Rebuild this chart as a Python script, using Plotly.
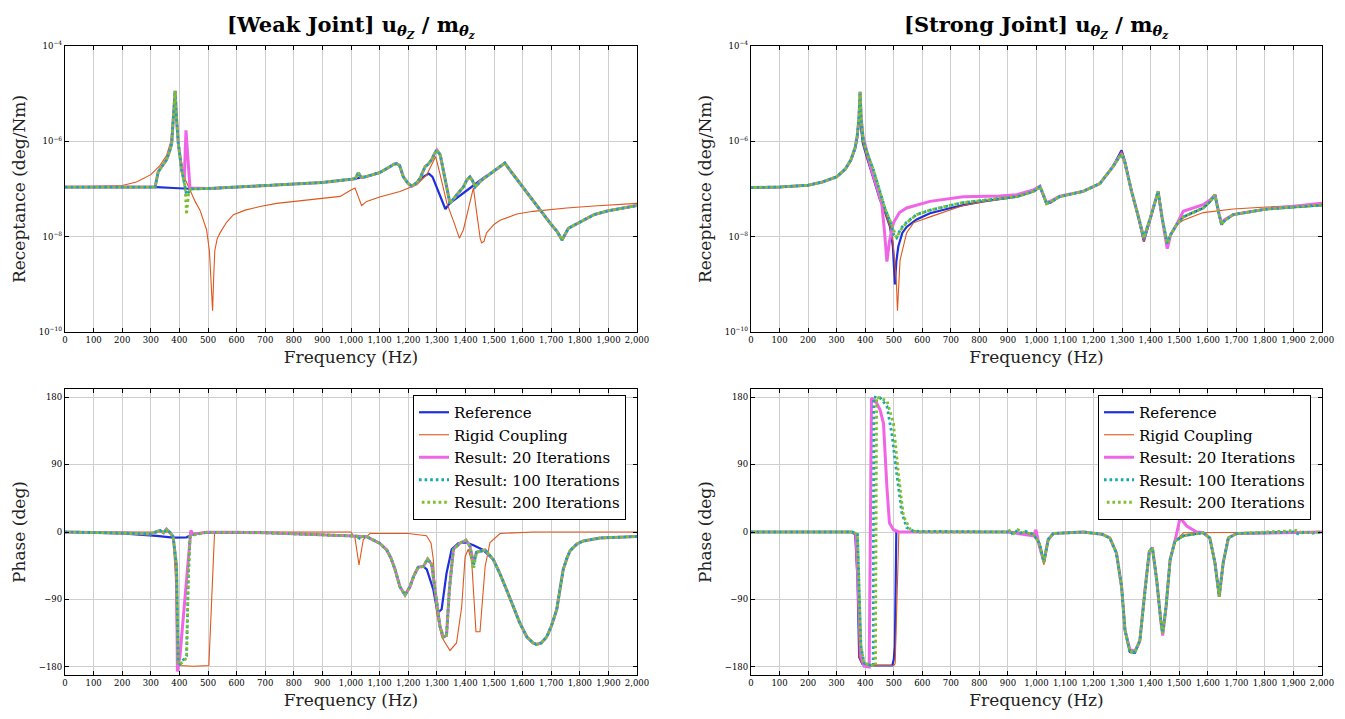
import plotly.graph_objects as go

# ---------------- Weak joint: magnitude (deg/Nm) ----------------
f_ref_wm = [0,100,200,300,320,380,430,450,500,600,700,800,900,1000,1050,1100,1130,1150,1160,1170,
            1183,1200,1213,1230,1250,1265,1272,1285,1300,1315,1330,1345,1400,1463,1500,1538,1560,1600,1650,1700,
            1720,1738,1760,1800,1850,1900,1950,2000]
m_ref_wm = [1.1e-7,1.1e-7,1.12e-7,1.12e-7,1.1e-7,1.05e-7,1.0e-7,1.0e-7,1.02e-7,1.1e-7,1.18e-7,1.27e-7,1.37e-7,1.6e-7,1.8e-7,
            2.2e-7,2.8e-7,3.3e-7,3.4e-7,3.1e-7,1.8e-7,1.3e-7,1.15e-7,1.35e-7,1.75e-7,2.0e-7,2.1e-7,1.8e-7,1.05e-7,6e-8,
            3.8e-8,5e-8,9e-8,1.7e-7,2.35e-7,3.5e-7,2.3e-7,1.1e-7,4.4e-8,1.8e-8,1.3e-8,8.5e-9,1.5e-8,2.0e-8,2.9e-8,
            3.5e-8,4.0e-8,4.5e-8]

f_rig_wm = [0,100,200,250,300,330,355,370,380,385,390,400,420,437,455,472,495,505,512,516,520,524,532,542,565,
            589,630,682,740,798,860,915,962,997,1014,1025,1037,1055,1100,1171,1230,1265,1285,1296,1310,1335,1360,
            1379,1393,1410,1428,1440,1452,1457,1465,1474,1500,1521,1580,1637,1754,1850,2000]
m_rig_wm = [1.1e-7,1.12e-7,1.18e-7,1.4e-7,2.0e-7,3.0e-7,5.0e-7,1.0e-6,4e-6,1.1e-5,3e-6,6e-7,1.6e-7,9.5e-8,5.5e-8,
            3.6e-8,1.4e-8,5e-9,1e-9,2.8e-10,1.5e-9,5.2e-9,9e-9,1.2e-8,2.0e-8,2.9e-8,3.6e-8,4.3e-8,5.0e-8,5.5e-8,
            6.0e-8,6.5e-8,7.0e-8,9.3e-8,1.05e-7,7e-8,4.5e-8,5.5e-8,6.8e-8,8.9e-8,1.23e-7,2.0e-7,3.5e-7,4.8e-7,2.2e-7,
            5.1e-8,2e-8,9.3e-9,1.4e-8,4e-8,1.05e-7,3e-8,9e-9,7.4e-9,8e-9,1.2e-8,1.8e-8,2.2e-8,3.0e-8,3.4e-8,
            4.0e-8,4.4e-8,5.0e-8]

f_r200_wm = [0,100,200,300,315,326,340,355,365,373,380,385,390,396,408,420,425,432,440,500,600,700,800,900,1000,
             1015,1026,1035,1050,1100,1130,1150,1160,1170,1183,1200,1213,1230,1242,1259,1270,1282,1292,1300,1312,
             1330,1346,1370,1393,1405,1416,1425,1434,1457,1500,1538,1560,1600,1650,1700,1720,1738,1760,1800,1850,
             1900,1950,2000]
m_r200_wm = [1.1e-7,1.1e-7,1.12e-7,1.12e-7,1.1e-7,2.3e-7,3.0e-7,4.1e-7,6e-7,9e-7,4e-6,1.15e-5,3e-6,9.3e-7,2.5e-7,
             1.1e-7,2.9e-8,8e-8,1.0e-7,1.02e-7,1.1e-7,1.18e-7,1.27e-7,1.37e-7,1.6e-7,1.65e-7,2.2e-7,1.75e-7,1.8e-7,2.2e-7,
             2.8e-7,3.3e-7,3.4e-7,3.1e-7,1.8e-7,1.3e-7,1.15e-7,1.35e-7,1.7e-7,2.95e-7,3.3e-7,4.1e-7,5.5e-7,6.6e-7,5.2e-7,
             1.5e-7,5e-8,7.6e-8,1.1e-7,1.55e-7,1.8e-7,1.5e-7,1.1e-7,1.55e-7,2.35e-7,3.5e-7,2.3e-7,1.1e-7,4.4e-8,1.8e-8,
             1.3e-8,8.5e-9,1.5e-8,2.0e-8,2.9e-8,3.5e-8,4.0e-8,4.5e-8]

f_r100_wm = [0,100,200,300,315,326,340,355,365,373,380,385,390,396,408,420,425,432,440,500,600,700,800,900,1000,
             1015,1026,1035,1050,1100,1130,1150,1160,1170,1183,1200,1213,1230,1242,1259,1270,1282,1292,1300,1312,
             1330,1346,1370,1393,1405,1416,1425,1434,1457,1500,1538,1560,1600,1650,1700,1720,1738,1760,1800,1850,
             1900,1950,2000]
m_r100_wm = [1.1e-7,1.1e-7,1.12e-7,1.12e-7,1.1e-7,2.3e-7,3.0e-7,4.1e-7,6e-7,9e-7,4e-6,1.15e-5,3e-6,9.3e-7,2.5e-7,
             1.1e-7,7.6e-8,8.5e-8,1.0e-7,1.02e-7,1.1e-7,1.18e-7,1.27e-7,1.37e-7,1.6e-7,1.65e-7,2.2e-7,1.75e-7,1.8e-7,2.2e-7,
             2.8e-7,3.3e-7,3.4e-7,3.1e-7,1.8e-7,1.3e-7,1.15e-7,1.35e-7,1.7e-7,2.95e-7,3.3e-7,4.1e-7,5.5e-7,6.6e-7,5.2e-7,
             1.5e-7,5e-8,7.6e-8,1.1e-7,1.55e-7,1.8e-7,1.5e-7,1.1e-7,1.55e-7,2.35e-7,3.5e-7,2.3e-7,1.1e-7,4.4e-8,1.8e-8,
             1.3e-8,8.5e-9,1.5e-8,2.0e-8,2.9e-8,3.5e-8,4.0e-8,4.5e-8]

f_r20_wm = [0,100,200,300,315,326,340,355,365,373,380,385,390,396,408,417,423,430,437,500,600,700,800,900,1000,
            1015,1026,1035,1050,1100,1130,1150,1160,1170,1183,1200,1213,1230,1242,1259,1270,1282,1292,1300,1312,
            1330,1346,1370,1393,1405,1416,1425,1434,1457,1500,1538,1560,1600,1650,1700,1720,1738,1760,1800,1850,
            1900,1950,2000]
m_r20_wm = [1.1e-7,1.1e-7,1.12e-7,1.12e-7,1.1e-7,2.3e-7,3.0e-7,4.1e-7,6e-7,9e-7,4e-6,1.15e-5,3e-6,9.3e-7,2.5e-7,
            1.6e-7,1.7e-6,4e-7,1.05e-7,1.02e-7,1.1e-7,1.18e-7,1.27e-7,1.37e-7,1.6e-7,1.65e-7,2.2e-7,1.75e-7,1.8e-7,2.2e-7,
            2.8e-7,3.3e-7,3.4e-7,3.1e-7,1.8e-7,1.3e-7,1.15e-7,1.35e-7,1.7e-7,2.95e-7,3.3e-7,4.1e-7,5.5e-7,6.6e-7,5.2e-7,
            1.5e-7,5e-8,7.6e-8,1.1e-7,1.55e-7,1.8e-7,1.5e-7,1.1e-7,1.55e-7,2.35e-7,3.5e-7,2.3e-7,1.1e-7,4.4e-8,1.8e-8,
            1.3e-8,8.5e-9,1.5e-8,2.0e-8,2.9e-8,3.5e-8,4.0e-8,4.5e-8]

# ---------------- Strong joint: magnitude (deg/Nm) ----------------
f_ref_sm = [0,100,200,250,300,330,350,365,372,378,381,385,392,405,430,452,470,487,497,504,509,516,530,545,580,
            627,700,743,814,931,989,1012,1025,1035,1050,1081,1163,1222,1268,1285,1298,1310,1333,1355,1376,1400,1426,
            1440,1458,1470,1491,1514,1550,1584,1610,1625,1640,1648,1660,1689,1806,1900,2000]
m_ref_sm = [1.07e-7,1.1e-7,1.2e-7,1.4e-7,1.8e-7,2.6e-7,4.0e-7,7e-7,1.2e-6,2.5e-6,4.5e-6,2e-6,9e-7,4.8e-7,1.6e-7,
            5.9e-8,3.2e-8,1.6e-8,6.3e-9,1e-9,3e-9,6.2e-9,1.2e-8,1.6e-8,2.3e-8,3.1e-8,4.0e-8,4.6e-8,5.5e-8,6.9e-8,
            8.9e-8,1.1e-7,7e-8,4.9e-8,5.2e-8,6.9e-8,8.9e-8,1.3e-7,3e-7,4.8e-7,6.5e-7,3.8e-7,8.9e-8,2.8e-8,7.9e-9,
            2.5e-8,8.9e-8,2.5e-8,7.2e-9,1.1e-8,1.8e-8,2.6e-8,3.2e-8,4.0e-8,5.6e-8,7.6e-8,2.8e-8,1.8e-8,2.2e-8,2.9e-8,
            3.8e-8,4.2e-8,4.6e-8]

f_rig_sm = [0,100,200,250,300,330,350,365,372,378,381,385,392,405,430,452,470,487,497,504,509,513,517,522,545,
            569,627,700,743,814,931,989,1012,1025,1035,1050,1081,1163,1222,1268,1285,1298,1310,1333,1355,1376,1400,
            1426,1440,1458,1470,1491,1514,1584,1689,1806,2000]
m_rig_sm = [1.07e-7,1.1e-7,1.2e-7,1.4e-7,1.8e-7,2.6e-7,4.0e-7,7e-7,1.2e-6,2.5e-6,4.5e-6,2e-6,9e-7,4.8e-7,1.6e-7,
            5.9e-8,3.2e-8,1.6e-8,8e-9,3e-9,1.2e-9,2.8e-10,1.2e-9,3.2e-9,1.2e-8,1.95e-8,2.6e-8,3.6e-8,4.5e-8,5.4e-8,
            6.8e-8,8.8e-8,1.1e-7,7e-8,4.9e-8,5.2e-8,6.9e-8,8.9e-8,1.3e-7,3e-7,4.6e-7,6.2e-7,3.8e-7,8.9e-8,2.8e-8,
            7.9e-9,2.5e-8,8.9e-8,2.5e-8,7.2e-9,1.1e-8,1.8e-8,2.2e-8,3.2e-8,3.8e-8,4.2e-8,4.7e-8]

f_r200_sm = [0,100,200,250,300,330,350,365,372,378,382,386,392,399,429,452,470,487,500,510,525,545,580,627,700,
             743,814,931,989,1012,1022,1035,1050,1081,1163,1222,1268,1285,1298,1310,1333,1355,1376,1400,1426,1440,
             1458,1470,1491,1514,1550,1584,1610,1625,1640,1648,1660,1689,1806,1900,2000]
m_r200_sm = [1.07e-7,1.1e-7,1.2e-7,1.4e-7,1.8e-7,2.6e-7,4.1e-7,7.5e-7,1.3e-6,3e-6,1.1e-5,3e-6,1.2e-6,7.8e-7,2.5e-7,
             8.1e-8,3.8e-8,2.2e-8,1.3e-8,9.5e-9,1.4e-8,1.95e-8,2.9e-8,3.6e-8,4.6e-8,5.2e-8,5.8e-8,6.9e-8,8.9e-8,1.12e-7,
             8e-8,4.9e-8,5.4e-8,6.9e-8,8.9e-8,1.3e-7,2.95e-7,4.3e-7,5.5e-7,3.5e-7,8.9e-8,2.9e-8,9.3e-9,2.6e-8,8.9e-8,
             2.5e-8,7.2e-9,1.1e-8,1.8e-8,2.6e-8,3.3e-8,4.0e-8,5.6e-8,7.6e-8,2.8e-8,1.8e-8,2.2e-8,2.9e-8,3.8e-8,4.2e-8,
             4.6e-8]

f_r100_sm = [0,100,200,250,300,330,350,365,372,378,382,386,392,399,429,452,470,487,500,510,525,545,580,627,700,
             743,814,931,989,1012,1022,1035,1050,1081,1163,1222,1268,1285,1298,1310,1333,1355,1376,1400,1426,1440,
             1458,1470,1491,1514,1550,1584,1610,1625,1640,1648,1660,1689,1806,1900,2000]
m_r100_sm = [1.07e-7,1.1e-7,1.2e-7,1.4e-7,1.8e-7,2.6e-7,4.1e-7,7.5e-7,1.3e-6,3e-6,1.1e-5,3e-6,1.2e-6,7.8e-7,2.5e-7,
             8.1e-8,3.8e-8,2.1e-8,1.1e-8,9.5e-9,1.5e-8,2.0e-8,2.9e-8,3.6e-8,4.6e-8,5.2e-8,5.8e-8,6.9e-8,8.9e-8,1.12e-7,
             8e-8,4.9e-8,5.4e-8,6.9e-8,8.9e-8,1.3e-7,2.95e-7,4.3e-7,5.5e-7,3.5e-7,8.9e-8,2.9e-8,9.3e-9,2.6e-8,8.9e-8,
             2.5e-8,7.2e-9,1.1e-8,1.8e-8,2.6e-8,3.3e-8,4.0e-8,5.6e-8,7.6e-8,2.8e-8,1.8e-8,2.2e-8,2.9e-8,3.8e-8,4.2e-8,
             4.6e-8]

f_r20_sm = [0,100,200,250,300,330,350,365,372,378,382,386,392,399,420,441,458,468,476,485,499,520,545,627,743,
            871,931,989,1012,1035,1050,1081,1163,1222,1268,1285,1298,1310,1333,1355,1376,1400,1426,1440,1458,1470,
            1491,1514,1550,1584,1610,1625,1640,1648,1660,1689,1806,1900,2000]
m_r20_sm = [1.07e-7,1.1e-7,1.2e-7,1.4e-7,1.8e-7,2.6e-7,4.1e-7,7.5e-7,1.3e-6,3e-6,1.1e-5,3e-6,1.3e-6,9e-7,2.8e-7,
            1.1e-7,5e-8,1.2e-8,3e-9,8e-9,1.95e-8,3.2e-8,4.0e-8,5.5e-8,6.9e-8,7.1e-8,7.6e-8,9.5e-8,1.15e-7,5.2e-8,
            5.6e-8,7.1e-8,8.9e-8,1.3e-7,2.95e-7,4.3e-7,5.5e-7,3.5e-7,8.9e-8,2.9e-8,9.3e-9,2.6e-8,9e-8,2.4e-8,5.6e-9,
            1.1e-8,1.8e-8,3.4e-8,4.0e-8,4.7e-8,6e-8,7.6e-8,2.9e-8,1.95e-8,2.3e-8,2.9e-8,3.8e-8,4.4e-8,5.0e-8]

# ---------------- Weak joint: phase (deg) ----------------
f_ref_wp = [0,100,200,320,378,425,448,495,600,700,822,938,1000,1055,1078,1100,1125,1140,1154,1171,1189,1206,1220,
            1235,1253,1265,1288,1303,1317,1334,1352,1375,1404,1430,1462,1498,1520,1544,1570,1591,1615,1637,1649,
            1665,1684,1700,1719,1730,1742,1755,1766,1790,1812,1870,1950,2000]
p_ref_wp = [0,-0.5,-1.8,-5.3,-7.6,-7.1,-2.7,-0.5,-0.5,-1,-2.7,-4,-5,-6.2,-11,-15,-24,-35,-50,-73,-84,-73,-58,
            -47,-46,-50,-77,-108,-103,-55,-23,-15,-14,-18,-24,-37,-55,-77,-102,-122,-140,-148,-150,
            -148,-140,-126,-104,-80,-50,-35,-25,-16,-12,-8,-6.5,-6]

f_rig_wp = [0,300,370,378,386,392,400,450,500,503,523,600,1000,1014,1028,1043,1066,1200,1264,1280,1288,1299,1317,
            1346,1369,1387,1399,1410,1422,1437,1451,1469,1486,1521,1637,2000]
p_rig_wp = [0,0,0,-6,-60,-170,-178,-179,-179,-178,0,0,0,-8,-44,-10,-2,-2,-5,-15,-37,-108,-140,
            -158,-148,-100,-33,-23,-39,-133,-133,-46,-14,-2,0,0]

f_r200_wp = [0,100,200,300,320,332,345,355,365,378,390,396,402,425,431,437,448,495,600,700,822,938,1000,1020,1026,
             1032,1055,1078,1100,1125,1140,1154,1171,1189,1206,1220,1235,1253,1268,1282,1293,1311,1323,1334,1344,
             1358,1381,1402,1416,1428,1439,1469,1498,1520,1544,1570,1591,1615,1637,1649,1665,1684,1700,1719,1730,
             1742,1755,1766,1790,1812,1870,1950,2000]
p_r200_wp = [0,-0.5,-1.5,-2.5,0,2,-1,3,0,-6,-46,-175,-177,-168,-64,-6,-4,-0.5,-0.5,-1,-2.7,-4,-5,-5.5,-7,
             -6,-6.2,-11,-15,-24,-35,-50,-73,-84,-73,-58,-47,-46,-36,-43,-77,-126,-140,-138,-77,
             -23,-15,-11,-19,-50,-27,-24,-37,-55,-77,-102,-122,-140,-148,-150,-148,-140,-126,-104,-80,
             -50,-35,-25,-16,-12,-8,-6.5,-6]

f_r100_wp = [0,100,200,300,320,332,345,355,365,378,390,396,402,425,431,437,448,495,600,700,822,938,1000,1020,1026,
             1032,1055,1078,1100,1125,1140,1154,1171,1189,1206,1220,1235,1253,1268,1282,1293,1311,1323,1334,1344,
             1358,1381,1402,1416,1428,1439,1469,1498,1520,1544,1570,1591,1615,1637,1649,1665,1684,1700,1719,1730,
             1742,1755,1766,1790,1812,1870,1950,2000]
p_r100_wp = [0,-0.5,-1.5,-2.5,0,2,-1,3,0,-6,-46,-174,-176,-165,-64,-6,-4,-0.5,-0.5,-1,-2.7,-4,-5,-5.5,-10,
             -6,-6.2,-11,-15,-24,-35,-50,-73,-84,-73,-58,-47,-46,-36,-43,-77,-126,-140,-138,-77,
             -23,-15,-11,-19,-45,-27,-24,-37,-55,-77,-102,-122,-140,-148,-150,-148,-140,-126,-104,-80,
             -50,-35,-25,-16,-12,-8,-6.5,-6]

f_r20_wp = [0,100,200,300,320,332,345,355,365,378,390,393,402,437,440,448,495,600,700,822,938,1000,1020,1026,1032,
            1055,1078,1100,1125,1140,1154,1171,1189,1206,1220,1235,1253,1268,1282,1293,1311,1323,1334,1344,1358,
            1381,1402,1416,1428,1439,1469,1498,1520,1544,1570,1591,1615,1637,1649,1665,1684,1700,1719,1730,1742,
            1755,1766,1790,1812,1870,1950,2000]
p_r20_wp = [0,-0.5,-1.5,-2.5,0,2,-1,4,0,-6,-46,-186,-165,-2,2,-3,-0.5,-0.5,-1,-2.7,-4,-5,-5.5,-7,-6,
            -6.2,-11,-15,-24,-35,-50,-73,-84,-73,-58,-47,-46,-36,-43,-77,-126,-140,-138,-77,-23,
            -15,-11,-19,-40,-27,-24,-37,-55,-77,-102,-122,-140,-148,-150,-148,-140,-126,-104,-80,-50,
            -35,-25,-16,-12,-8,-6.5,-6]

# ---------------- Strong joint: phase (deg) ----------------
f_ref_sp = [0,350,365,373,379,390,402,495,500,504,509,520,900,989,1010,1026,1041,1059,1163,1230,1257,1280,1298,
            1310,1327,1345,1362,1380,1395,1406,1421,1435,1442,1454,1468,1485,1515,1584,1607,1625,1640,1654,1672,
            1701,2000]
p_ref_sp = [0,0,-3,-63,-167,-176,-178,-178,-170,-152,0,0,0,-3,-15,-40,-10,-2,0,-3,-8,-28,-73,
            -131,-160,-161,-145,-77,-26,-21,-64,-117,-135,-99,-37,-12,-5,-1,-8,-41,-86,-41,-8,
            -2,0]

f_rig_sp = [0,350,365,373,379,390,402,501,505,512,518,900,989,1010,1026,1041,1059,1163,1230,1257,1280,1298,1310,
            1327,1345,1362,1380,1395,1406,1421,1435,1442,1454,1468,1485,1515,2000]
p_rig_sp = [0,0,-3,-63,-167,-176,-178,-178,-175,-90,0,0,-3,-15,-44,-10,-2,0,-3,-8,-28,-73,-131,
            -160,-161,-145,-77,-26,-21,-64,-117,-135,-99,-37,-12,-1,0]

f_r20_sp = [0,350,368,385,396,414,422,440,452,464,476,485,499,518,900,989,998,1010,1026,1041,1059,1163,1230,1257,
            1280,1298,1310,1327,1345,1362,1380,1395,1406,1421,1435,1442,1454,1468,1485,1503,1526,1561,1584,1607,
            1625,1640,1654,1672,1701,2000]
p_r20_sp = [0,0,-3,-165,-179,-180,178.7,172,163,145,60,12,3,0,0,-5,3,-19,-40,-10,-2,0,-3,-8,
            -28,-73,-131,-157,-159,-145,-77,-26,-21,-64,-117,-138,-99,-37,-12,19,8,0,-1,-8,
            -41,-86,-41,-8,-2,0]

f_r100_sp = [0,355,373,385,396,422,428,430,452,476,493,510,528,545,569,900,910,925,940,960,989,1010,1026,1041,
             1059,1163,1230,1257,1280,1298,1310,1327,1345,1362,1380,1395,1406,1421,1435,1442,1454,1468,1485,1515,
             1584,1607,1625,1640,1654,1672,1701,1900,1920,1940,1960,2000]
p_r100_sp = [0,0,-3,-152,-175,-178,-179,180,179,168,132,79,26,6,1,0,-3,2,-2,1,-3,-15,-40,-10,
             -2,0,-3,-8,-28,-73,-131,-160,-160,-145,-77,-26,-21,-64,-117,-135,-99,-37,-12,-5,
             -1,-8,-41,-86,-41,-8,-2,0,-3,1,-2,0]

f_r200_sp = [0,355,373,385,396,436,440,476,499,516,534,557,580,890,905,920,935,950,989,1010,1026,1041,1059,1163,
             1230,1257,1280,1298,1310,1327,1345,1362,1380,1395,1406,1421,1435,1442,1454,1468,1485,1515,1584,1607,
             1625,1640,1654,1672,1701,1910,1930,2000]
p_r200_sp = [0,0,-3,-152,-175,-179,180,175,145,79,21,4,0,0,2,-2,3,0,-3,-15,-40,-10,-2,0,
             -3,-8,-28,-73,-131,-160,-160,-145,-77,-26,-21,-64,-117,-135,-99,-37,-12,-5,-1,-8,
             -41,-86,-41,-8,-2,2,-1,0]

# ---------------- text ----------------
series_names = ["Reference", "Rigid Coupling", "Result: 20 Iterations",
                "Result: 100 Iterations", "Result: 200 Iterations"]
titles = ["<b>[Weak Joint] u<sub><i>θ<sub>Z</sub></i></sub> / m<sub><i>θ<sub>z</sub></i></sub></b>",
          "<b>[Strong Joint] u<sub><i>θ<sub>Z</sub></i></sub> / m<sub><i>θ<sub>z</sub></i></sub></b>"]
mag_tickvals = [1e-10, 1e-8, 1e-6, 1e-4]
mag_ticktext = ["10<sup>−10</sup>", "10<sup>−8</sup>", "10<sup>−6</sup>", "10<sup>−4</sup>"]
phase_tickvals = [-180, -90, 0, 90, 180]
phase_ticktext = ["−180", "−90", "0", "90", "180"]

# ---------------- styles ----------------
FONT = "DejaVu Serif, Liberation Serif, serif"
styles = [
    dict(color="#1f2fdc", width=2.2, dash="solid"),
    dict(color="#e0561c", width=1.1, dash="solid"),
    dict(color="#f064e6", width=3.0, dash="solid"),
    dict(color="#16a8ae", width=2.8, dash="2.6px,3px"),
    dict(color="#7fbf2a", width=2.8, dash="0.1px,2.7px,2.6px,0.2px"),
]

# page body has an 8px default margin: figure is laid out in screen pixels minus that offset
OFF = 8
W, H = 1345 - 2 * OFF, 719 - 2 * OFF
def px_x(a, b):
    return [(a - OFF) / W, (b - OFF) / W]
def px_y(top, bot):
    return [(H - (bot - OFF)) / H, (H - (top - OFF)) / H]
def sx(a):
    return (a - OFF) / W
def sy(a):
    return (H - (a - OFF)) / H

panels = [
    ("x", "y", [(f_ref_wm, m_ref_wm), (f_rig_wm, m_rig_wm), (f_r20_wm, m_r20_wm), (f_r100_wm, m_r100_wm), (f_r200_wm, m_r200_wm)], None),
    ("x2", "y2", [(f_ref_sm, m_ref_sm), (f_rig_sm, m_rig_sm), (f_r20_sm, m_r20_sm), (f_r100_sm, m_r100_sm), (f_r200_sm, m_r200_sm)], None),
    ("x3", "y3", [(f_ref_wp, p_ref_wp), (f_rig_wp, p_rig_wp), (f_r20_wp, p_r20_wp), (f_r100_wp, p_r100_wp), (f_r200_wp, p_r200_wp)], "legend"),
    ("x4", "y4", [(f_ref_sp, p_ref_sp), (f_rig_sp, p_rig_sp), (f_r20_sp, p_r20_sp), (f_r100_sp, p_r100_sp), (f_r200_sp, p_r200_sp)], "legend2"),
]

fig = go.Figure()
for xa, ya, data, leg in panels:
    for (fx, vy), name, st in zip(data, series_names, styles):
        kw = dict(x=fx, y=vy, name=name, mode="lines", xaxis=xa, yaxis=ya,
                  line=dict(color=st["color"], width=st["width"], dash=st["dash"]),
                  hoverinfo="skip")
        if leg is None:
            kw["showlegend"] = False
        else:
            kw["legend"] = leg
        fig.add_trace(go.Scatter(**kw))

TITLE_FONT = dict(family=FONT, size=17, color="#222")
axis_common = dict(showline=True, linecolor="black", linewidth=1.3, mirror="ticks",
                   ticks="inside", ticklen=4, tickcolor="black", tickwidth=0.8,
                   showgrid=True, gridcolor="#cfcfcf", gridwidth=1, zeroline=False,
                   automargin=False,
                   tickfont=dict(family=FONT, size=8.5, color="black"))
xcommon = dict(axis_common, range=[0, 2000], dtick=100, tick0=0, tickformat=",",
               title=dict(text="Frequency (Hz)", font=TITLE_FONT, standoff=6))

lx = px_x(65, 637)
rx = px_x(751, 1322)
ty = px_y(46, 332)
by = px_y(389, 675)

legend_common = dict(y=sy(395), xanchor="right", yanchor="top",
                     bgcolor="white", bordercolor="black", borderwidth=1,
                     font=dict(family=FONT, size=15, color="black"), tracegroupgap=0,
                     itemwidth=30)

fig.update_layout(
    width=W, height=H, margin=dict(l=0, r=0, t=0, b=0),
    paper_bgcolor="white", plot_bgcolor="white",
    font=dict(family=FONT, color="black"),
    xaxis=dict(xcommon, domain=lx, anchor="y"),
    xaxis2=dict(xcommon, domain=rx, anchor="y2"),
    xaxis3=dict(xcommon, domain=lx, anchor="y3"),
    xaxis4=dict(xcommon, domain=rx, anchor="y4"),
    yaxis=dict(axis_common, domain=ty, anchor="x", type="log", range=[-10, -4],
               tickvals=mag_tickvals, ticktext=mag_ticktext,
               title=dict(text="Receptance (deg/Nm)", font=TITLE_FONT, standoff=8)),
    yaxis2=dict(axis_common, domain=ty, anchor="x2", type="log", range=[-10, -4],
                tickvals=mag_tickvals, ticktext=mag_ticktext,
                title=dict(text="Receptance (deg/Nm)", font=TITLE_FONT, standoff=8)),
    yaxis3=dict(axis_common, domain=by, anchor="x3", range=[-190.7, 190.7],
                tickvals=phase_tickvals, ticktext=phase_ticktext,
                title=dict(text="Phase (deg)", font=TITLE_FONT, standoff=8)),
    yaxis4=dict(axis_common, domain=by, anchor="x4", range=[-190.7, 190.7],
                tickvals=phase_tickvals, ticktext=phase_ticktext,
                title=dict(text="Phase (deg)", font=TITLE_FONT, standoff=8)),
    legend=dict(legend_common, x=sx(626)),
    legend2=dict(legend_common, x=sx(1311)),
    annotations=[
        dict(text=titles[0], x=sx((65 + 637) / 2), y=sy(10), xref="paper", yref="paper",
             xanchor="center", yanchor="top", showarrow=False,
             font=dict(family=FONT, size=21, color="black")),
        dict(text=titles[1], x=sx((751 + 1322) / 2), y=sy(10), xref="paper", yref="paper",
             xanchor="center", yanchor="top", showarrow=False,
             font=dict(family=FONT, size=21, color="black")),
    ],
)

fig.write_html("out.html")
